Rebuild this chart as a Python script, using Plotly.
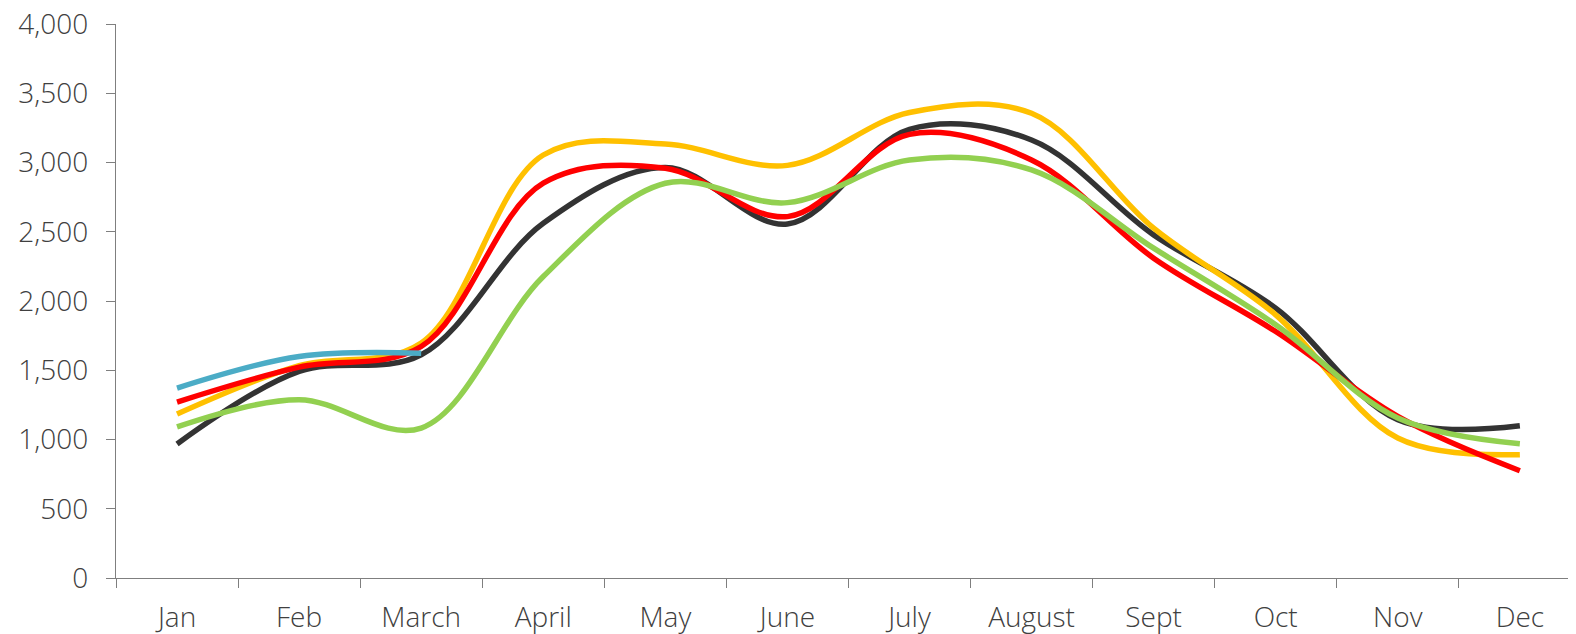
import plotly.graph_objects as go

months = ["Jan", "Feb", "March", "April", "May", "June", "July", "August", "Sept", "Oct", "Nov", "Dec"]

series_black = [968, 1492, 1612, 2562, 2965, 2557, 3240, 3163, 2478, 1949, 1143, 1100]
series_yellow = [1184, 1533, 1697, 3055, 3134, 2980, 3362, 3356, 2526, 1901, 1011, 891]
series_red = [1271, 1523, 1672, 2851, 2959, 2610, 3204, 3019, 2310, 1780, 1167, 775]
series_green = [1091, 1288, 1083, 2177, 2851, 2711, 3019, 2947, 2382, 1829, 1156, 970]
series_blue = [1372, 1600, 1624]

y_ticks = [0, 500, 1000, 1500, 2000, 2500, 3000, 3500, 4000]

traces = [
    ("Series 1", series_black, "#333333"),
    ("Series 2", series_yellow, "#FFC000"),
    ("Series 3", series_red, "#FF0000"),
    ("Series 4", series_green, "#92D050"),
    ("Series 5", series_blue, "#4BACC6"),
]

fig = go.Figure()
for name, vals, color in traces:
    fig.add_trace(go.Scatter(
        x=months[:len(vals)], y=vals, name=name, mode="lines",
        line=dict(color=color, width=5.5, shape="spline", smoothing=1.0),
        hoverinfo="x+y+name",
    ))

axis_color = "#404040"
tfont = dict(family="Open Sans", size=28, color=axis_color, weight=300)
fig.update_layout(
    width=1568, height=626,
    margin=dict(l=108, r=0, t=16, b=56, autoexpand=False),
    paper_bgcolor="white", plot_bgcolor="white",
    showlegend=False,
    font=tfont,
    xaxis=dict(
        type="category", categoryorder="array", categoryarray=months,
        range=[-0.5, 11.46], showgrid=False, zeroline=False, automargin=False,
        showline=True, linecolor="#7f7f7f", linewidth=1.3,
        ticks="outside", tickson="boundaries", ticklen=9, tickcolor="#7f7f7f", tickwidth=1.3,
        ticklabelstandoff=14,
        tickfont=tfont,
    ),
    yaxis=dict(
        range=[0, 4001], tickvals=y_ticks, tickformat=",d", automargin=False,
        showgrid=False, zeroline=False,
        showline=True, linecolor="#7f7f7f", linewidth=1.3,
        ticks="outside", ticklen=9, tickcolor="#7f7f7f", tickwidth=1.3,
        ticklabelstandoff=12, ticklabeloverflow="allow",
        tickfont=tfont,
    ),
)

fig.write_html("out.html")
